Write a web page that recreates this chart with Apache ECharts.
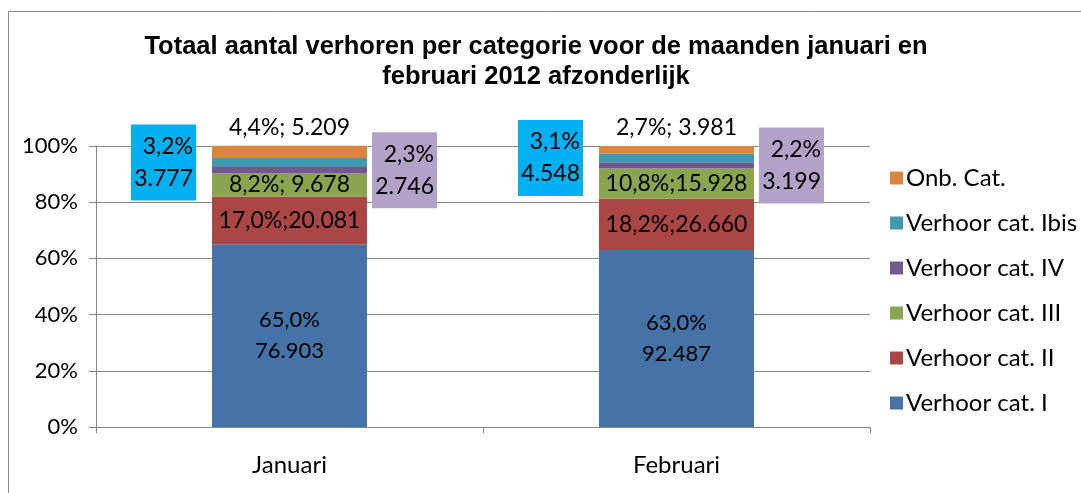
<!DOCTYPE html>
<html>
<head>
<meta charset="utf-8">
<script src="https://cdn.jsdelivr.net/npm/echarts@6/dist/echarts.min.js"></script>
<style>
  html, body { margin: 0; padding: 0; background: #fff; }
  #chart { width: 1081px; height: 493px; }
</style>
</head>
<body>
<div id="chart"></div>
<script>
const categories = ['Januari', 'Februari'];

// percentages per category (share of the month)
const pctCatI = [65.0, 63.0];
const pctCatII = [17.0, 18.2];
const pctCatIII = [8.2, 10.8];
const pctCatIV = [2.3, 2.2];
const pctCatIbis = [3.2, 3.1];
const pctOnb = [4.4, 2.7];

// absolute counts
const cntCatI = [76903, 92487];
const cntCatII = [20081, 26660];
const cntCatIII = [9678, 15928];
const cntCatIV = [2746, 3199];
const cntCatIbis = [3777, 4548];
const cntOnb = [5209, 3981];

const yTicks = [0, 20, 40, 60, 80, 100];

const FONT = 'Lato';

const fmtPct = v => v.toFixed(1).replace('.', ',') + '%';
const fmtCnt = n => String(n).replace(/\B(?=(\d{3})+(?!\d))/g, '.');
const oneLine = (p, c) => fmtPct(p) + (c < 10000 ? '; ' : ';') + fmtCnt(c);

const chart = echarts.init(document.getElementById('chart'));

const baseLabel = { fontFamily: FONT, fontSize: 22, color: '#000' };
const wideLabel = { fontFamily: FONT, fontSize: 23, color: '#000' };

const boxLabel = (pos, bg, pct, cnt) => ({
    show: true,
    position: pos,
    distance: pos === 'left' ? 16 : 5,
    backgroundColor: bg,
    padding: [6, 3, 6, 3],
    lineHeight: 32,
    formatter: p => '{a|' + fmtPct(pct[p.dataIndex]) + '}\n{a|' + fmtCnt(cnt[p.dataIndex]) + '}',
    rich: { a: { width: 59, align: 'right', fontFamily: FONT, fontSize: 23, lineHeight: 32, color: '#000' } }
});

const series = [
    {
        name: 'Verhoor cat. I', data: pctCatI, color: '#4572A7',
        label: Object.assign({ show: true, position: 'inside', lineHeight: 31,
            formatter: p => fmtPct(pctCatI[p.dataIndex]) + '\n' + fmtCnt(cntCatI[p.dataIndex]) }, baseLabel)
    },
    {
        name: 'Verhoor cat. II', data: pctCatII, color: '#AA4643',
        label: Object.assign({ show: true, position: 'inside',
            formatter: p => oneLine(pctCatII[p.dataIndex], cntCatII[p.dataIndex]) }, wideLabel)
    },
    {
        name: 'Verhoor cat. III', data: pctCatIII, color: '#89A54E',
        label: Object.assign({ show: true, position: 'inside',
            formatter: p => oneLine(pctCatIII[p.dataIndex], cntCatIII[p.dataIndex]) }, wideLabel)
    },
    {
        name: 'Verhoor cat. IV', data: pctCatIV, color: '#71588F',
        label: boxLabel('right', '#B3A2C7', pctCatIV, cntCatIV)
    },
    {
        name: 'Verhoor cat. Ibis', data: pctCatIbis, color: '#4198AF',
        label: boxLabel('left', '#00B0F0', pctCatIbis, cntCatIbis)
    },
    {
        name: 'Onb. Cat.', data: pctOnb, color: '#DB843D',
        label: Object.assign({ show: true, position: 'top', distance: 7,
            formatter: p => oneLine(pctOnb[p.dataIndex], cntOnb[p.dataIndex]) }, wideLabel)
    }
].map(s => Object.assign({ type: 'bar', stack: 'total', barWidth: 155, clip: false }, s));

chart.setOption({
    animation: false,
    backgroundColor: '#fff',
    title: {
        text: 'Totaal aantal verhoren per categorie voor de maanden januari en\nfebruari 2012 afzonderlijk',
        left: 531,
        top: 27,
        textAlign: 'center',
        textStyle: { fontFamily: 'Liberation Sans', fontWeight: 'bold', fontSize: 25.5, lineHeight: 30, color: '#000' }
    },
    graphic: [{
        type: 'rect',
        shape: { x: 8.5, y: 11.5, width: 1200, height: 600 },
        style: { fill: 'none', stroke: '#868686', lineWidth: 1 },
        silent: true
    }],
    legend: {
        orient: 'vertical',
        left: 885,
        top: 161,
        itemWidth: 13,
        itemHeight: 13,
        itemGap: 21,
        icon: 'rect',
        textStyle: { fontFamily: FONT, fontSize: 24, lineHeight: 24, color: '#000', padding: [0, 0, 0, -2] },
        data: ['Onb. Cat.', 'Verhoor cat. Ibis', 'Verhoor cat. IV', 'Verhoor cat. III', 'Verhoor cat. II', 'Verhoor cat. I']
    },
    grid: { left: 96, right: 211, top: 146, bottom: 66, containLabel: false },
    xAxis: {
        type: 'category',
        data: categories,
        axisLine: { lineStyle: { color: '#868686' } },
        axisTick: { show: true, alignWithLabel: false, length: 6, lineStyle: { color: '#868686' } },
        axisLabel: { fontFamily: FONT, fontSize: 24, color: '#000', margin: 26 }
    },
    yAxis: {
        type: 'value',
        min: yTicks[0],
        max: yTicks[yTicks.length - 1],
        interval: yTicks[1] - yTicks[0],
        axisLine: { show: true, lineStyle: { color: '#868686' } },
        axisTick: { show: true, length: 7, lineStyle: { color: '#868686' } },
        splitLine: { lineStyle: { color: '#868686' } },
        axisLabel: { fontFamily: FONT, fontSize: 22, color: '#000', margin: 18, formatter: '{value}%' }
    },
    series: series
});
</script>
</body>
</html>
